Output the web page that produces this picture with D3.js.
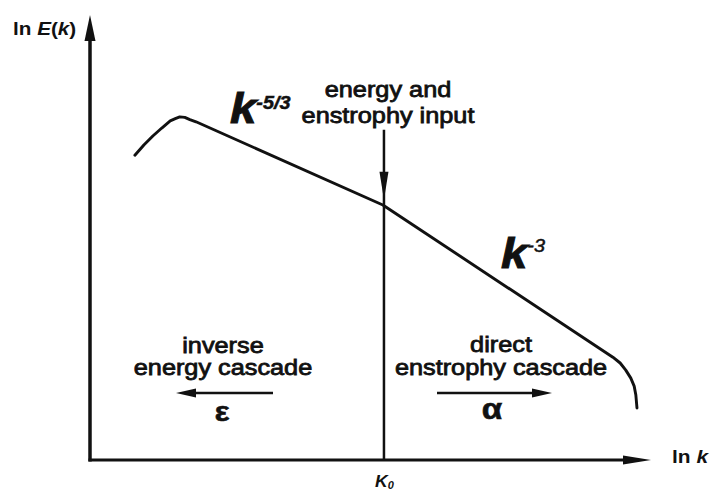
<!DOCTYPE html>
<html>
<head>
<meta charset="utf-8">
<script src="https://cdn.jsdelivr.net/npm/d3@7"></script>
<style>
  body { margin: 0; background: #fff; }
  text { font-family: "Liberation Sans", Arial, sans-serif; fill: #111; }
</style>
</head>
<body>
<script>
// spectrum (arbitrary ln units)
var lnK = [0.80, 0.96, 1.12, 1.28, 1.43, 1.52, 1.60, 1.69, 1.78, 1.89, 5.22, 9.32, 9.45, 9.55, 9.64, 9.70, 9.73, 9.75];
var lnE = [6.85, 7.08, 7.28, 7.46, 7.62, 7.67, 7.71, 7.70, 7.65, 7.60, 5.73, 2.31, 2.18, 2.02, 1.84, 1.66, 1.46, 1.17];
var k0 = 5.24;          // forcing wavenumber
var inputTop = 7.42;    // where the input arrow starts
var axisMax = [10, 10];

var width = 712, height = 491;
var sx = 1.15; // picture is a bit stretched sideways

var svg = d3.select("body").append("svg")
    .attr("width", width)
    .attr("height", height);

var x = d3.scaleLinear().domain([0, axisMax[0]]).range([90, 651]);
var y = d3.scaleLinear().domain([0, axisMax[1]]).range([460, 15]);

// axes
svg.append("line")
    .attr("x1", x(0)).attr("y1", y(0) + 1.5)
    .attr("x2", x(0)).attr("y2", y(axisMax[1]) + 20)
    .attr("stroke", "#111").attr("stroke-width", 3.5);
svg.append("path")
    .attr("d", "M" + x(0) + "," + y(axisMax[1]) + " L" + (x(0) - 5.5) + "," + (y(axisMax[1]) + 26) +
      " L" + (x(0) + 5.5) + "," + (y(axisMax[1]) + 26) + "Z")
    .attr("fill", "#111");

svg.append("line")
    .attr("x1", x(0) - 1.5).attr("y1", y(0))
    .attr("x2", x(axisMax[0]) - 18).attr("y2", y(0))
    .attr("stroke", "#111").attr("stroke-width", 3);
svg.append("path")
    .attr("d", "M" + x(axisMax[0]) + "," + y(0) + " L" + (x(axisMax[0]) - 28) + "," + (y(0) - 4.5) +
      " L" + (x(axisMax[0]) - 28) + "," + (y(0) + 4.5) + "Z")
    .attr("fill", "#111");

// input line at k0
svg.append("line")
    .attr("x1", x(k0)).attr("y1", y(inputTop))
    .attr("x2", x(k0)).attr("y2", y(0))
    .attr("stroke", "#111").attr("stroke-width", 2.5);
var tipY = y(inputTop) + 70;
svg.append("path")
    .attr("d", "M" + x(k0) + "," + tipY + " L" + (x(k0) - 4.5) + "," + (tipY - 28) +
      " L" + (x(k0) + 4.5) + "," + (tipY - 28) + "Z")
    .attr("fill", "#111");

// spectrum
var line = d3.line()
    .x(function(d, i){ return x(lnK[i]); })
    .y(function(d, i){ return y(lnE[i]); });

svg.append("path")
    .datum(lnK)
    .attr("d", line)
    .attr("fill", "none")
    .attr("stroke", "#111")
    .attr("stroke-width", 2.9)
    .attr("stroke-linejoin", "round")
    .attr("stroke-linecap", "round");

// text helper, stretched sideways like the picture
function label(tx, ty, str, size, opts) {
  opts = opts || {};
  var t = svg.append("text")
      .attr("transform", "translate(" + tx + "," + ty + ") scale(" + sx + ",1)")
      .attr("text-anchor", opts.anchor || "middle")
      .style("font-size", size + "px")
      .style("font-weight", opts.weight || "normal")
      .style("font-style", opts.style || "normal")
      .style("stroke", "#111")
      .style("stroke-width", opts.stroke == null ? 0.8 : opts.stroke)
      .text(str);
  return t;
}

// axis titles
var yt = svg.append("text")
    .attr("transform", "translate(13,35) scale(1.15,1)")
    .style("font-size", "18px").style("font-weight", "bold");
yt.append("tspan").text("ln ");
yt.append("tspan").style("font-style", "italic").text("E");
yt.append("tspan").text("(");
yt.append("tspan").style("font-style", "italic").text("k");
yt.append("tspan").text(")");

var xt = svg.append("text")
    .attr("transform", "translate(672,463) scale(1.1,1)")
    .style("font-size", "19px").style("font-weight", "bold");
xt.append("tspan").text("ln ");
xt.append("tspan").style("font-style", "italic").text("k");

// K0 sits at the very bottom edge, as in the picture
var kt = svg.append("text")
    .attr("transform", "translate(375,487) scale(1.1,1)")
    .style("font-size", "16px").style("font-weight", "bold").style("font-style", "italic");
kt.append("tspan").text("K");
kt.append("tspan").attr("dy", 2).style("font-size", "10px").text("0");

// slopes
var s1 = svg.append("text")
    .attr("transform", "translate(230,123) scale(1.1,1)")
    .style("font-weight", "bold").style("font-style", "italic")
    .style("stroke", "#111").style("stroke-width", 1);
s1.append("tspan").style("font-size", "43px").text("k");
s1.append("tspan").attr("dy", -14).style("font-size", "18px").style("stroke-width", 0.5).text("-5/3");

var s2 = svg.append("text")
    .attr("transform", "translate(501,268) scale(1.1,1)")
    .style("font-weight", "bold").style("font-style", "italic")
    .style("stroke", "#111").style("stroke-width", 1);
s2.append("tspan").style("font-size", "43px").text("k");
s2.append("tspan").attr("dy", -16).style("font-size", "18px").style("font-weight", "normal")
    .style("stroke-width", 0.5).text("-3");

// input label
label(388, 97, "energy and", 22);
label(388, 123, "enstrophy input", 22);

// cascades
label(223, 353, "inverse", 22);
label(223, 375, "energy cascade", 22);
label(501, 352, "direct", 22);
label(501, 375, "enstrophy cascade", 22);

svg.append("line")
    .attr("x1", 273).attr("y1", 393).attr("x2", 192).attr("y2", 393)
    .attr("stroke", "#111").attr("stroke-width", 2.5);
svg.append("path").attr("d", "M176,393 L196,388.5 L196,397.5Z").attr("fill", "#111");

svg.append("line")
    .attr("x1", 437).attr("y1", 393).attr("x2", 536).attr("y2", 393)
    .attr("stroke", "#111").attr("stroke-width", 2.5);
svg.append("path").attr("d", "M552,393 L532,388.5 L532,397.5Z").attr("fill", "#111");

label(222, 421, "\u03b5", 27, {weight: "bold", stroke: 0.6});
label(492, 419, "\u03b1", 29, {weight: "bold", stroke: 0.6});
</script>
</body>
</html>
